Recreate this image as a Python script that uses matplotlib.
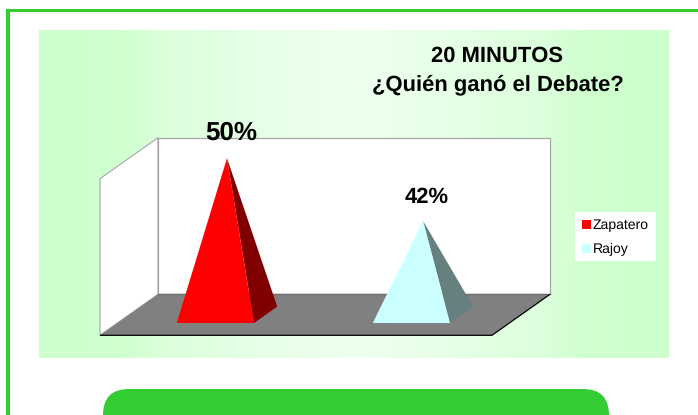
import matplotlib
matplotlib.use('Agg')
import matplotlib.pyplot as plt
import numpy as np
from matplotlib.patches import FancyBboxPatch, Patch, Polygon, Rectangle
from matplotlib.transforms import Affine2D

plt.rcParams['font.family'] = ['Liberation Sans', 'DejaVu Sans']
plt.rcParams['text.hinting'] = 'none'
plt.rcParams['text.hinting_factor'] = 1

# data
names = ['Zapatero', 'Rajoy']
values = [50, 42]
labels = ['50%', '42%']
label_sizes = [18.8, 15.6]
label_shift = [(4.5, 25), (4, 24)]  # px from the apex
front_colors = ['#FF0000', '#CCFFFF']
side_colors = ['#800000', '#668080']
title_lines = ['20 MINUTOS', '¿Quién ganó el Debate?']

W, H = 698, 415
DEPTH_X, DEPTH_Y = 58, 41  # floor depth in px


def px(x, y):
    # reference pixel -> figure fraction
    return x / W, 1 - y / H


fig = plt.figure(figsize=(W / 100, H / 100), dpi=100, facecolor='white')

# page background, in pixels
bg = fig.add_axes([0, 0, 1, 1])
bg.axis('off')

# chart area gradient, lightest in the middle
dist = np.abs(np.arange(630) - 315)
r = np.interp(dist, [0, 100, 190, 230, 315], [238, 230, 220, 208, 204]) / 255
grad = np.dstack([r, np.ones_like(r), r])
bg.imshow(grad, extent=(39, 669, 358, 31), aspect='auto', interpolation='bilinear')
bg.set_xlim(0, W)
bg.set_ylim(H, 0)

# frame of the page
bg.add_patch(Rectangle((6, 9), W, 3, color='#33CC33', lw=0))
bg.add_patch(Rectangle((6, 9), 3.5, H, color='#33CC33', lw=0))

# green box cut by the bottom edge
bg.add_patch(FancyBboxPatch((103, 389), 506, 60, boxstyle='round,pad=0,rounding_size=26',
                            fc='#33CC33', ec='none'))

# legend box
bg.add_patch(Rectangle((575, 212), 81, 49, color='white', lw=0))

# front plane of the 3D box: the value axis runs 30 to 50
x0, y0 = px(100, 335.3)
x1, y1 = px(492, 178.7)
ax = fig.add_axes([x0, y0, x1 - x0, y1 - y0])
ax.set_xlim(0, len(values))
ax.set_ylim(30, 50)
ax.axis('off')


def depth(d):
    # shift into the box, d = 0 front .. 1 back
    return ax.transData + Affine2D().translate(d * DEPTH_X, d * DEPTH_Y)


xl, xr = ax.get_xlim()
yb, yt = ax.get_ylim()
dx = DEPTH_X * (xr - xl) / 392  # floor depth in data units
dy = DEPTH_Y * (yt - yb) / 156.6
wall = '#A6A6A6'

# left wall, back wall, floor
ax.add_patch(Polygon([(xl, yb), (xl, yt), (xl + dx, yt + dy), (xl + dx, yb + dy)],
                     fc='white', ec=wall, lw=0.8, clip_on=False))
ax.add_patch(Polygon([(xl, yb), (xr, yb), (xr, yt), (xl, yt)], transform=depth(1),
                     fc='white', ec=wall, lw=0.9, clip_on=False))
ax.add_patch(Polygon([(xl, yb), (xr, yb), (xr + dx, yb + dy), (xl + dx, yb + dy)],
                     fc='#808080', ec='none', clip_on=False))
ax.plot([xl, xr], [yb, yb], transform=depth(1), color='#707070', lw=1, clip_on=False)
ax.plot([xl, xr, xr + dx], [yb, yb, yb + dy], color='black', lw=0.9, clip_on=False,
        solid_capstyle='butt')

# pyramids
half = 0.197
for i, v in enumerate(values):
    c = i + 0.5
    pf = depth(0.3).transform([(c - half, yb), (c + half, yb)])
    pb = depth(0.7).transform((c + half, yb))
    apex = depth(0.5).transform((c, v))
    ax.add_patch(Polygon([pf[1], pb, apex], transform=None, fc=side_colors[i],
                         ec='none', clip_on=False, zorder=3))
    ax.add_patch(Polygon([pf[0], pf[1], apex], transform=None, fc=front_colors[i],
                         ec='none', clip_on=False, zorder=3))
    ax.annotate(labels[i], xy=(apex[0], apex[1]), xycoords='figure pixels',
                xytext=(label_shift[i][0] * 0.72, label_shift[i][1] * 0.72),
                textcoords='offset points', ha='center', va='center',
                fontsize=label_sizes[i], fontweight='bold', annotation_clip=False, zorder=4)

# title
for line, yy in zip(title_lines, [56, 85]):
    fig.text(*px(497.5, yy), line, ha='center', va='center', fontsize=15.5, fontweight='bold')

# legend
handles = [Patch(fc=c, ec='none', label=n) for c, n in zip(front_colors, names)]
leg_x, leg_y = px(575, 214)
bx, by = px(656, 263)
leg = fig.legend(handles=handles, loc='lower left',
                 bbox_to_anchor=(leg_x, by, bx - leg_x, leg_y - by), mode='expand',
                 fontsize=9.8, frameon=False, handlelength=0.7, handleheight=0.7,
                 handletextpad=0.1, labelspacing=0.8, borderaxespad=0, borderpad=0.5)

fig.savefig('out.png', dpi=100)
